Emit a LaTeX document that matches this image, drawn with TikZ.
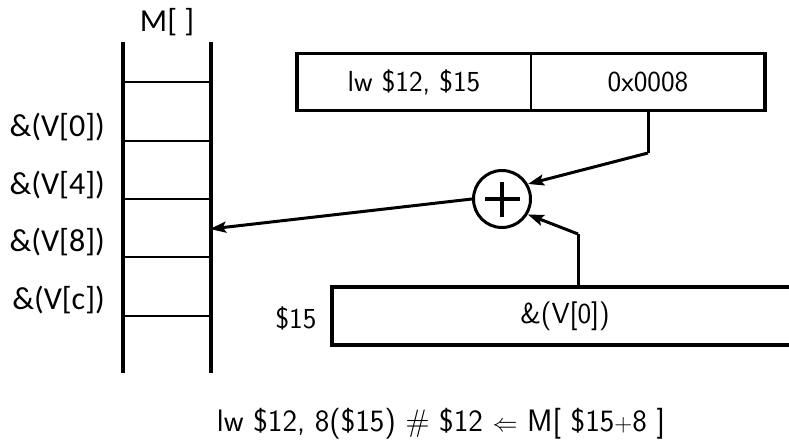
\documentclass[tikz,border=0pt]{standalone}
\usepackage{fontspec}
\newfontfamily\labfont{Carlito}
\usetikzlibrary{arrows.meta}
\begin{document}
\begin{tikzpicture}[x=1pt,y=-1pt,
  txt/.style={font=\sffamily\fontsize{29}{34}\selectfont, inner sep=0pt},
  captxt/.style={font=\sffamily\fontsize{31}{36}\selectfont, inner sep=0pt},
  lab/.style={font=\labfont\fontsize{32}{36}\selectfont, inner sep=0pt},
  cellbox/.style={inner sep=0pt},
  heavy/.style={line width=4pt},
  boxline/.style={line width=3.5pt},
  thinline/.style={line width=2pt},
  conn/.style={line width=3pt, -{Stealth[length=16pt,width=11pt,inset=3pt]}},
  wire/.style={line width=3pt}]
\clip (0,0) rectangle (789,441);
% memory column
\node[cellbox, minimum width=87pt, minimum height=331pt] (mem) at (167,207.5) {};
\draw[heavy] (mem.north west) -- (mem.south west);
\draw[heavy] (mem.north east) -- (mem.south east);
\foreach \yy in {82,141,199,257,316}
  \draw[thinline] (124,\yy) -- (210,\yy);
\node[lab] (mtitle) at (167,22) {M[ ]};
\node[lab, anchor=east] (v0) at (105,127) {\&(V[0])};
\node[lab, anchor=east] (v4) at (105,185) {\&(V[4])};
\node[lab, anchor=east] (v8) at (105,242) {\&(V[8])};
\node[lab, anchor=east] (vc) at (105,300) {\&(V[c])};
\coordinate (hit) at (210,229);
% instruction
\node[txt, minimum width=234pt, minimum height=57pt] (op) at (414,82) {lw \$12, \$15};
\node[txt, minimum width=234pt, minimum height=57pt] (imm) at (648,82) {0x0008};
\draw[boxline] (op.north west) rectangle (imm.south east);
\draw[thinline] (op.north east) -- (op.south east);
% register
\node[txt, minimum width=466pt, minimum height=58pt] (reg) at (565,316) {\&(V[0])};
\draw[boxline] (reg.north west) rectangle (reg.south east);
\node[txt] (rname) at (296,318) {\$15};
% adder
\node[circle, draw, line width=3pt, minimum size=57pt, inner sep=0pt] (plus) at (502,199) {};
\draw[line width=3.5pt] (485,199) -- (520,199);
\draw[line width=3.5pt] (502,182) -- (502,217);
% connectors
\coordinate (bend1) at (648,153);
\coordinate (bend2) at (578,234);
\draw[wire] (648,111) -- (bend1);
\draw[conn] (bend1) -- (plus.30);
\draw[wire] (578,288) -- (bend2);
\draw[conn] (bend2) -- (plus.-31);
\draw[conn] (plus.180) -- (hit);
% caption
\node[txt, captxt] (cap) at (441,424) {lw \$12, 8(\$15) $\#$ \$12 $\Leftarrow$ M[ \$15$+$8 ]};
\end{tikzpicture}
\end{document}
